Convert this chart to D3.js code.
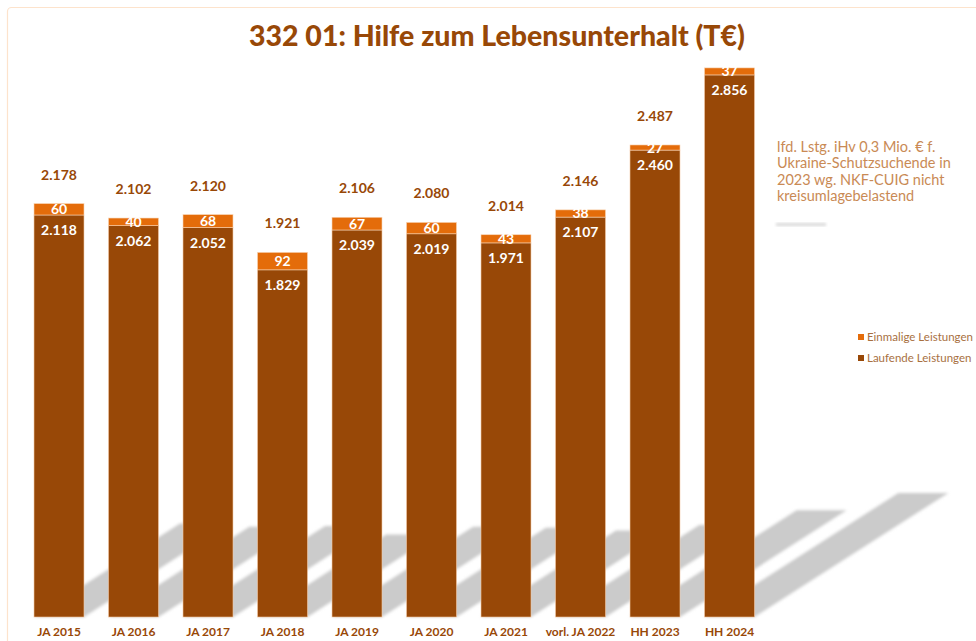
<!DOCTYPE html>
<html><head><meta charset="utf-8">
<script src="https://cdn.jsdelivr.net/npm/d3@7"></script>
<style>body{margin:0;background:#fff}svg{display:block}</style>
</head><body>
<svg id="c" width="976" height="641"></svg>
<script>
const categories = ["JA 2015","JA 2016","JA 2017","JA 2018","JA 2019","JA 2020","JA 2021","vorl. JA 2022","HH 2023","HH 2024"];
const laufende = [2118,2062,2052,1829,2039,2019,1971,2107,2460,2856];
const einmalige = [60,40,68,92,67,60,43,38,27,37];
const totals = [2178,2102,2120,1921,2106,2080,2014,2146,2487,null];
const seriesNames = ["Einmalige Leistungen","Laufende Leistungen"];
const title = "332 01: Hilfe zum Lebensunterhalt (T€)";
const note = ["lfd. Lstg. iHv 0,3 Mio. € f.","Ukraine-Schutzsuchende in","2023 wg. NKF-CUIG nicht","kreisumlagebelastend"];

const dark = "#984807", orange = "#E46C0A", txt = "#984807";
const font = "Lato, 'Open Sans', sans-serif";
const fmt = v => d3.format(",")(v).replace(/,/g, ".");

const svg = d3.select("#c");
const defs = svg.append("defs");
defs.append("filter").attr("id","blur").attr("x","-20%").attr("y","-20%").attr("width","140%").attr("height","140%")
  .append("feGaussianBlur").attr("stdDeviation", 1.8);

// frame
svg.append("rect").attr("x",7.5).attr("y",7.5).attr("width",1100).attr("height",1000)
  .attr("rx",4).attr("fill","none").attr("stroke","#fde3cc").attr("stroke-width",1.2);

const x = d3.scaleBand().domain(categories).range([21.75, 766.75]).paddingInner(0.329).paddingOuter(0.1645);
const y = d3.scaleLinear().domain([0, 3000]).range([617, 617 - 0.1898*3000]);
const base = y(0);

const data = categories.map((c,i)=>({c, l:laufende[i], e:einmalige[i], t:totals[i]}));

// shadows
svg.append("g").attr("filter","url(#blur)").selectAll("path").data(data).join("path")
  .attr("fill","#cbcbcb")
  .attr("d", d => {
    const h = base - y(d.l + d.e);
    const dx = 0.353*h, dy = 0.226*h;
    const x0 = x(d.c), x1 = x(d.c) + x.bandwidth();
    return `M${x0},${base}L${x1},${base}L${x1+dx},${base-dy}L${x0+dx},${base-dy}Z`;
  });

// bars
const g = svg.append("g");
g.selectAll("rect.l").data(data).join("rect").attr("class","l")
  .attr("x", d=>x(d.c)).attr("width", x.bandwidth())
  .attr("y", d=>y(d.l)).attr("height", d=>base - y(d.l))
  .attr("fill", dark).attr("stroke","#f3c9a6").attr("stroke-width",0.6);
g.selectAll("rect.e").data(data).join("rect").attr("class","e")
  .attr("x", d=>x(d.c)).attr("width", x.bandwidth())
  .attr("y", d=>y(d.l + d.e)).attr("height", d=>y(d.l) - y(d.l + d.e))
  .attr("fill", orange).attr("stroke","#f8d4b4").attr("stroke-width",0.6);

// labels
const cx = d => x(d.c) + x.bandwidth()/2;
g.selectAll("text.e").data(data).join("text")
  .attr("x", cx).attr("y", d => (y(d.l) + y(d.l+d.e))/2 + 5)
  .attr("text-anchor","middle").attr("fill","#fff").attr("font-family",font).attr("font-weight","bold").attr("font-size",14)
  .text(d=>fmt(d.e));
g.selectAll("text.l").data(data).join("text")
  .attr("x", cx).attr("y", d => y(d.l) + 20)
  .attr("text-anchor","middle").attr("fill","#fff").attr("font-family",font).attr("font-weight","bold").attr("font-size",14)
  .text(d=>fmt(d.l));
g.selectAll("text.t").data(data.filter(d=>d.t!=null)).join("text")
  .attr("x", cx).attr("y", d => y(d.t) - 24)
  .attr("text-anchor","middle").attr("fill",txt).attr("font-family",font).attr("font-weight","bold").attr("font-size",14)
  .text(d=>fmt(d.t));

// x axis labels
const ax = svg.append("g").attr("transform",`translate(0,${base})`)
  .call(d3.axisBottom(x).tickSize(0).tickPadding(10));
ax.select(".domain").remove();
ax.selectAll("text").attr("fill",txt).attr("font-family",font).attr("font-weight","bold").attr("font-size",12);

// title
svg.append("text").attr("x",497).attr("y",46).attr("text-anchor","middle")
  .attr("fill",txt).attr("font-family",font).attr("font-weight","900").attr("font-size",28.5).text(title);

// note
svg.append("text").attr("fill","#c98a55").attr("font-family",font).attr("font-size",14.5)
  .selectAll("tspan").data(note).join("tspan").attr("x",777).attr("y",(d,i)=>152+i*16.3).text(d=>d);
svg.append("rect").attr("x",776).attr("y",223).attr("width",50).attr("height",3).attr("fill","#d8d8d8").attr("filter","url(#blur)");

// legend
const leg = svg.append("g").attr("transform","translate(858,332)");
const legColors = [orange, dark];
seriesNames.forEach((n,i)=>{
  leg.append("rect").attr("x",0).attr("y",i*21 + 2).attr("width",6).attr("height",6).attr("fill",legColors[i]);
  leg.append("text").attr("x",9).attr("y",i*21 + 9).attr("fill","#a8703f").attr("font-family",font).attr("font-size",11.5).text(n);
});
</script>
</body></html>
